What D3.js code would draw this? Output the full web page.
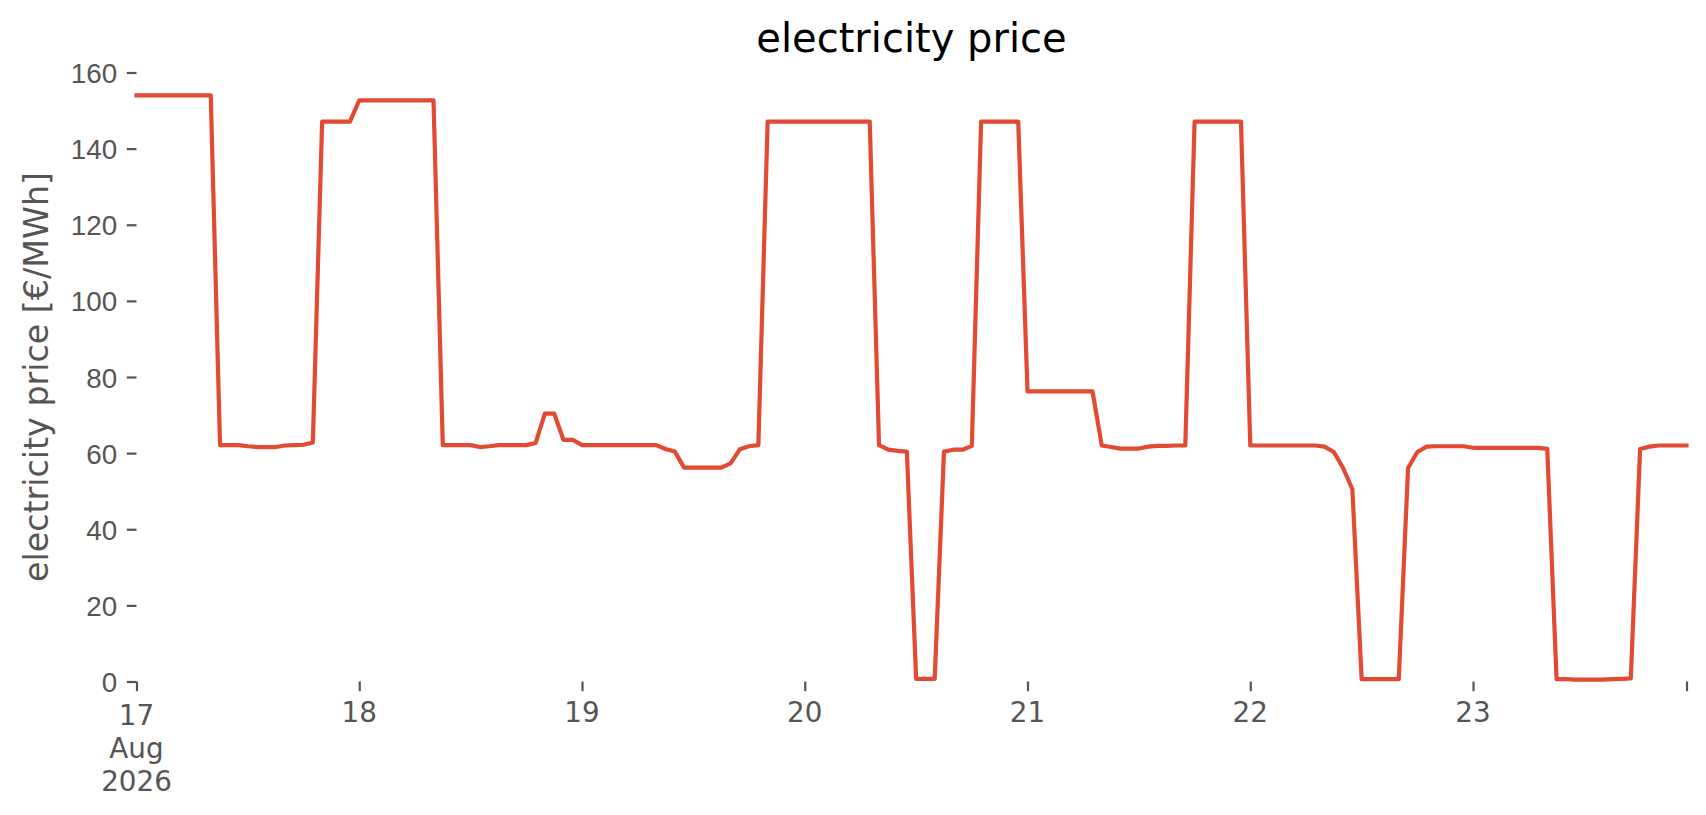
<!DOCTYPE html>
<html>
<head>
<meta charset="utf-8">
<script src="https://cdn.jsdelivr.net/npm/d3@7"></script>
<style>
  html, body { margin: 0; padding: 0; background: #ffffff; }
  svg { display: block; font-family: "DejaVu Sans", sans-serif; }
</style>
</head>
<body>
<svg id="chart" width="1706" height="815"></svg>
<script>
/******************************************************************************/
/* data : hourly prices, starting 17 Aug 2026 00:00 (UTC) */

var start_time = Date.UTC(2026, 7, 17, 0);

var price_17 = [154, 154, 154, 154, 154, 154, 154, 154, 154, 62.1, 62.1, 62.1,
                61.8, 61.6, 61.6, 61.6, 62.0, 62.1, 62.2, 62.8, 147.1, 147.1, 147.1, 147.1];
var price_18 = [152.7, 152.7, 152.7, 152.7, 152.7, 152.7, 152.7, 152.7, 152.7, 62.1, 62.1, 62.1,
                62.1, 61.6, 61.8, 62.1, 62.1, 62.1, 62.1, 62.7, 70.4, 70.4, 63.5, 63.5];
var price_19 = [62.1, 62.1, 62.1, 62.1, 62.1, 62.1, 62.1, 62.1, 62.1, 61.1, 60.4, 56.2,
                56.2, 56.2, 56.2, 56.2, 57.3, 61.0, 61.8, 62.1, 147.1, 147.1, 147.1, 147.1];
var price_20 = [147.1, 147.1, 147.1, 147.1, 147.1, 147.1, 147.1, 147.1, 62.1, 60.9, 60.6, 60.4,
                0.7, 0.7, 0.7, 60.4, 60.9, 60.9, 61.9, 147.1, 147.1, 147.1, 147.1, 147.1];
var price_21 = [76.2, 76.2, 76.2, 76.2, 76.2, 76.2, 76.2, 76.2, 62.0, 61.6, 61.2, 61.2,
                61.2, 61.7, 61.9, 61.9, 62.0, 62.0, 147.1, 147.1, 147.1, 147.1, 147.1, 147.1];
var price_22 = [62.0, 62.0, 62.0, 62.0, 62.0, 62.0, 62.0, 62.0, 61.7, 60.3, 56.1, 50.5,
                0.6, 0.6, 0.6, 0.6, 0.6, 56.1, 60.3, 61.7, 61.8, 61.8, 61.8, 61.8];
var price_23 = [61.4, 61.4, 61.4, 61.4, 61.4, 61.4, 61.4, 61.4, 61.1, 0.6, 0.6, 0.5,
                0.5, 0.5, 0.5, 0.6, 0.7, 0.8, 61.1, 61.7, 62.0, 62.0, 62.0, 62.0];

var y_ticks = [0, 20, 40, 60, 80, 100, 120, 140, 160];
var day_labels = ['17', '18', '19', '20', '21', '22', '23'];
var first_day_extra = ['Aug', '2026'];

var title_text = 'electricity price';
var y_label_text = 'electricity price [€/MWh]';

/******************************************************************************/
/* build series */

var prices = [].concat(price_17, price_18, price_19, price_20, price_21, price_22, price_23);
var series = prices.map(function(v, i){ return { t: new Date(start_time + i*3600000), v: v }; });

/******************************************************************************/
/* layout */

var svg = d3.select('#chart');
var plot = { left: 136.5, right: 1686.5, top: 72.5, bottom: 681.5 };
var tick_color = '#555555';
var line_color = '#E24A33';

var x = d3.scaleUtc()
  .domain([series[0].t, series[series.length-1].t])
  .range([plot.left, plot.right]);

var y = d3.scaleLinear()
  .domain([0, 160])
  .range([plot.bottom, plot.top]);

/******************************************************************************/
/* y axis */

var y_axis = d3.axisLeft(y).tickValues(y_ticks).tickSize(9.7).tickPadding(9.7);
var gy = svg.append('g').attr('transform', 'translate(' + plot.left + ',0)').call(y_axis);
gy.select('.domain').remove();
gy.selectAll('.tick line').attr('stroke', tick_color).attr('stroke-width', 2.2);
gy.selectAll('.tick text')
  .attr('fill', tick_color)
  .attr('font-size', 27.8)
  .attr('dy', '0.36em');

/******************************************************************************/
/* x axis : one tick per day plus the end of the data */

var day_ticks = day_labels.map(function(d, i){ return new Date(start_time + i*86400000); });
var x_tick_values = day_ticks.concat([series[series.length-1].t]);

var x_axis = d3.axisBottom(x).tickValues(x_tick_values).tickSize(9.7).tickFormat('');
var gx = svg.append('g').attr('transform', 'translate(0,' + plot.bottom + ')').call(x_axis);
gx.select('.domain').remove();
gx.selectAll('.tick line').attr('stroke', tick_color).attr('stroke-width', 2.2);

var xlabels = svg.append('g')
  .attr('fill', tick_color)
  .attr('font-size', 27.8)
  .attr('text-anchor', 'middle');

day_ticks.forEach(function(d, i){
  var t = xlabels.append('text').attr('x', x(d)).attr('y', i == 0 ? 724.5 : 722).text(day_labels[i]);
  if(i == 0){
    first_day_extra.forEach(function(s, k){
      xlabels.append('text').attr('x', x(d)).attr('y', 724.5 + 33.4*(k+1)).text(s);
    });
  }
});

/******************************************************************************/
/* line */

var line = d3.line()
  .x(function(d){ return x(d.t); })
  .y(function(d){ return y(d.v); });

svg.append('path')
  .datum(series)
  .attr('d', line)
  .attr('fill', 'none')
  .attr('stroke', line_color)
  .attr('stroke-width', 4.2)
  .attr('stroke-linejoin', 'round')
  .attr('stroke-linecap', 'square');

/******************************************************************************/
/* title and axis label */

svg.append('text')
  .attr('x', (plot.left + plot.right)/2)
  .attr('y', 52)
  .attr('text-anchor', 'middle')
  .attr('font-size', 40)
  .attr('fill', '#000000')
  .text(title_text);

svg.append('text')
  .attr('transform', 'translate(48,377) rotate(-90)')
  .attr('text-anchor', 'middle')
  .attr('font-size', 33.3)
  .attr('fill', tick_color)
  .text(y_label_text);
</script>
</body>
</html>
